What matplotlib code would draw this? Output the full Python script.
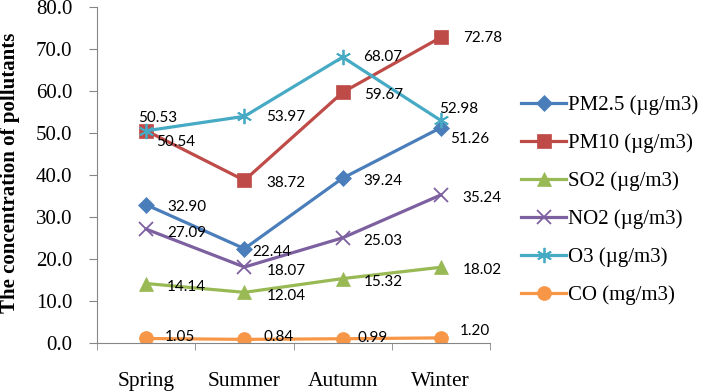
import matplotlib
matplotlib.use("Agg")
from matplotlib import pyplot as plt

seasons = ["Spring", "Summer", "Autumn", "Winter"]
names = ["PM2.5 (\u00b5g/m3)", "PM10 (\u00b5g/m3)", "SO2 (\u00b5g/m3)",
         "NO2 (\u00b5g/m3)", "O3 (\u00b5g/m3)", "CO (mg/m3)"]
pm25 = [32.90, 22.44, 39.24, 51.26]
pm10 = [50.54, 38.72, 59.67, 72.78]
so2 = [14.14, 12.04, 15.32, 18.02]
no2 = [27.09, 18.07, 25.03, 35.24]
o3 = [50.53, 53.97, 68.07, 52.98]
co = [1.05, 0.84, 0.99, 1.20]
yticks = [0, 10, 20, 30, 40, 50, 60, 70, 80]

series = [pm25, pm10, so2, no2, o3, co]
line_colors = ["#4A7EBB", "#BE4B48", "#98B954", "#7D60A0", "#46AAC5", "#F79646"]
markers = ["D", "s", "^", "x", (6, 2, 0), "o"]
msizes = [8, 10, 10, 10, 11, 10]

# label offsets in pixels (dx from point to left edge of text, dy up)
offsets = [
    [(21, -2), (8, -3), (21, -3), (9, -11)],
    [(10, -11), (22, -3), (21, -3), (22, -1)],
    [(21, -3), (22, -4), (21, -3), (22, -3)],
    [(21, -4), (22, -4), (21, -3), (22, -3)],
    [(-8, 13), (22, -1), (21, 0), (-2, 11)],
    [(19, 1), (19, 2), (15, 1), (19, 7)],
]

plt.rcParams["font.family"] = ["Liberation Serif", "DejaVu Serif"]

fig = plt.figure(figsize=(7.09, 3.91), dpi=100)
ax = fig.add_axes([0.137, 0.123, 0.554, 0.859])

x = list(range(len(seasons)))
for i in range(len(series)):
    thin = markers[i] == "x" or isinstance(markers[i], tuple)
    ax.plot(x, series[i], color=line_colors[i], lw=2.3, marker=markers[i],
            markersize=msizes[i], markerfacecolor=line_colors[i],
            markeredgecolor=line_colors[i], markeredgewidth=1.3 if thin else 0.5,
            label=names[i])
    for j in range(len(x)):
        ax.annotate("%.2f" % series[i][j], (x[j], series[i][j]),
                    xytext=offsets[i][j], textcoords="offset pixels",
                    ha="left", va="center", fontsize=11, family="Lato",
                    color="black")

ax.set_xlim(-0.5, 3.5)
ax.set_ylim(0, 80)
ax.set_yticks(yticks)
ax.set_yticklabels(["%.1f" % v for v in yticks])
ax.set_xticks(x)
ax.set_xticklabels(seasons)
ax.set_xticks([-0.5, 0.5, 1.5, 2.5, 3.5], minor=True)
ax.tick_params(axis="x", which="major", length=0, pad=21, labelsize=15.5)
ax.tick_params(axis="x", which="minor", length=5, color="#868686")
ax.tick_params(axis="y", length=6, color="#868686", pad=12, labelsize=15)
for s in ["top", "right"]:
    ax.spines[s].set_visible(False)
for s in ["left", "bottom"]:
    ax.spines[s].set_color("#868686")

fig.text(0.014, 0.557, "The concentration of pollutants", rotation=90,
         ha="center", va="center", fontsize=15, fontweight="bold")

ax.legend(loc="center left", bbox_to_anchor=(0.735, 0.488), bbox_transform=fig.transFigure,
          frameon=False, fontsize=15, handlelength=2.15, handletextpad=0.1,
          labelspacing=0.88, borderaxespad=0, borderpad=0)

plt.savefig("out.png", dpi=100)
